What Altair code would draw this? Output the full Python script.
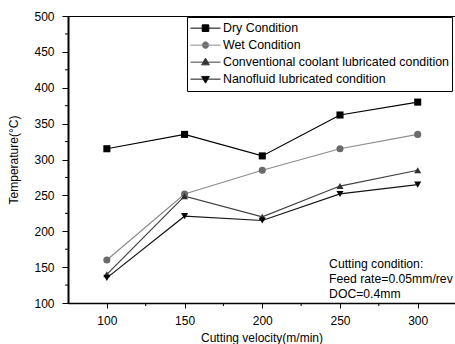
import altair as alt
import pandas as pd

velocity = [100, 150, 200, 250, 300]
series_names = [
    "Dry Condition",
    "Wet Condition",
    "Conventional coolant lubricated condition",
    "Nanofluid lubricated condition",
]
dry = [315, 335, 305, 362, 380]
wet = [160, 252, 285, 315, 335]
conventional = [140, 249, 220, 263, 285]
nano = [135, 221, 215, 252, 265]

x_major = [100, 150, 200, 250, 300]
x_minor = [125, 175, 225, 275]
y_major = [100, 150, 200, 250, 300, 350, 400, 450, 500]
y_minor = [125, 175, 225, 275, 325, 375, 425, 475]

line_colors = ["#000000", "#8c8c8c", "#404040", "#151515"]
fill_colors = ["#000000", "#6a6a6a", "#303030", "#000000"]
plot_shapes = ["square", "circle", "triangle-up", "triangle-down"]
legend_shapes = [
    "M-1,0H1M-0.22,-0.22H0.22V0.22H-0.22Z",
    "M-1,0H1M0.22,0A0.22,0.22 0 1,1 -0.22,0A0.22,0.22 0 1,1 0.22,0Z",
    "M-1,0H1M0,-0.27L0.26,0.18H-0.26Z",
    "M-1,0H1M0,0.27L0.26,-0.18H-0.26Z",
]
annotation = "Cutting condition:\nFeed rate=0.05mm/rev\nDOC=0.4mm"

rows = []
for name, vals, lc, fc, sh in zip(series_names, [dry, wet, conventional, nano],
                                  line_colors, fill_colors, plot_shapes):
    for v, t in zip(velocity, vals):
        rows.append({"velocity": v, "temp": t, "series": name,
                     "lc": lc, "fc": fc, "sh": sh})
df = pd.DataFrame(rows)

FONT = "Liberation Sans"
W, H = 387, 287

x_enc = alt.X("velocity:Q", title="Cutting velocity(m/min)",
              scale=alt.Scale(domain=[75, 324], nice=False, zero=False),
              axis=alt.Axis(values=x_major, tickSize=5, labelOverlap=False,
                            grid=False, domainWidth=1.5, titlePadding=6))
y_enc = alt.Y("temp:Q", title="Temperature(°C)",
              scale=alt.Scale(domain=[100, 500], nice=False, zero=False),
              axis=alt.Axis(values=y_major, tickSize=6, labelOverlap=False,
                            labelPadding=8, grid=False, domainWidth=2,
                            titlePadding=13))

lines = alt.Chart(df).mark_line(strokeWidth=1.2).encode(
    x=x_enc, y=y_enc,
    color=alt.Color("lc:N", scale=None),
    detail="series:N",
)

points = alt.Chart(df).mark_point(filled=True, size=50, opacity=1).encode(
    x=x_enc, y=y_enc,
    color=alt.Color("fc:N", scale=None),
    shape=alt.Shape("sh:N", scale=None),
)

xminor = alt.Chart(pd.DataFrame({"velocity": x_minor})).mark_rule(
    color="#000000", strokeWidth=1).encode(
    x=x_enc, y=alt.value(H), y2=alt.value(H + 3))
yminor = alt.Chart(pd.DataFrame({"temp": y_minor})).mark_rule(
    color="#000000", strokeWidth=1).encode(
    y=y_enc, x=alt.value(0), x2=alt.value(-3))

leg = alt.Legend(title=None, orient="none", legendX=119, legendY=1,
                 strokeColor="#000000", padding=3, labelFont=FONT,
                 labelFontSize=12.4, labelColor="#000000", labelOffset=2,
                 symbolOpacity=1, symbolStrokeWidth=1, symbolSize=900,
                 clipHeight=16.3, rowPadding=0, labelLimit=400)

legend_layer = alt.Chart(df).mark_point(filled=True, opacity=0, size=900).encode(
    x=x_enc, y=y_enc,
    fill=alt.Fill("series:N", sort=series_names,
                  scale=alt.Scale(domain=series_names, range=fill_colors), legend=leg),
    stroke=alt.Stroke("series:N", sort=series_names,
                      scale=alt.Scale(domain=series_names, range=line_colors), legend=leg),
    shape=alt.Shape("series:N", sort=series_names,
                    scale=alt.Scale(domain=series_names, range=legend_shapes), legend=leg),
)

ann_df = pd.DataFrame({"velocity": [243], "temp": [148.4], "txt": [annotation]})
text = alt.Chart(ann_df).mark_text(align="left", baseline="alphabetic", lineBreak="\n",
                                   lineHeight=15, font=FONT, fontSize=12.2,
                                   color="#000000").encode(
    x=x_enc, y=y_enc, text="txt:N")

chart = alt.layer(lines, points, xminor, yminor, legend_layer, text).properties(
    width=W, height=H,
    autosize=alt.AutoSizeParams(type="none"),
    padding={"left": 68, "top": 16, "right": 0, "bottom": 41},
    background="#ffffff",
).configure_view(stroke="#000000", strokeWidth=1).configure_axis(
    labelFont=FONT, titleFont=FONT, labelFontSize=12, titleFontSize=12,
    titleFontWeight="normal", labelColor="#000000", titleColor="#000000",
    domainColor="#000000", tickColor="#000000", tickWidth=1, labelPadding=7,
    labelOverlap=False,
)

chart.save("out.html", embed_options={"renderer": "svg", "actions": False})
